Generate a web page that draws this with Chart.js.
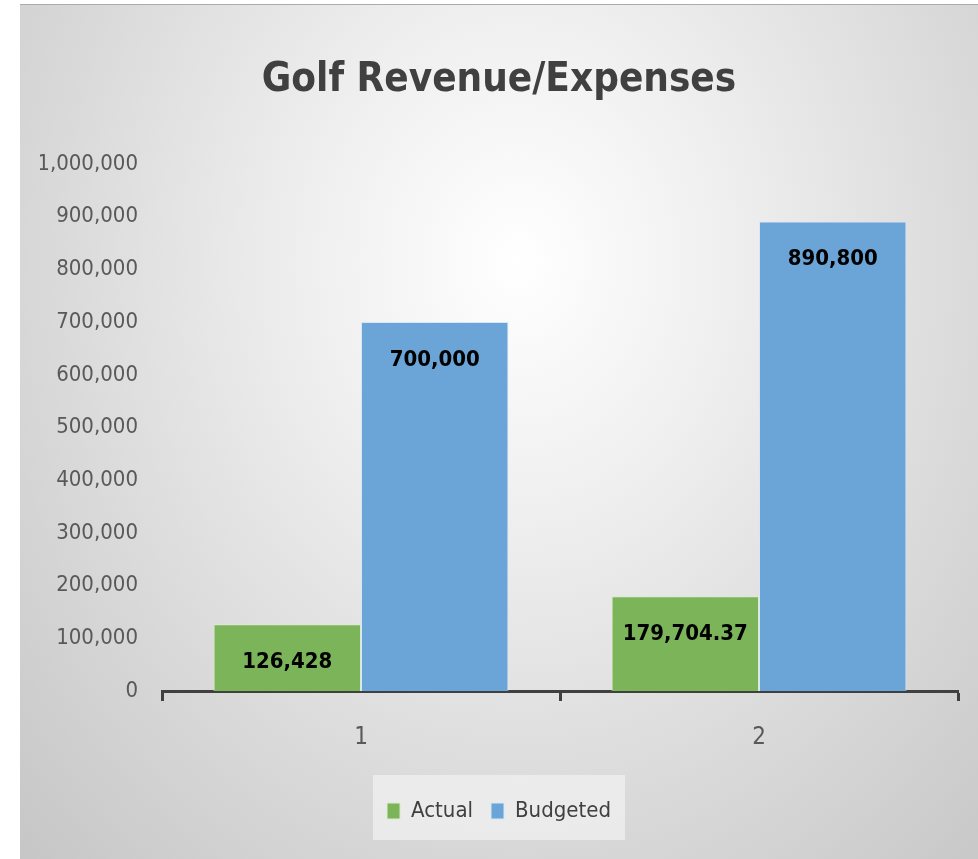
<!DOCTYPE html>
<html>
<head>
<meta charset="utf-8">
<script src="https://cdn.jsdelivr.net/npm/chart.js@4"></script>
<style>
  html, body { margin: 0; padding: 0; background: #ffffff; }
  .chart-box {
    position: absolute;
    left: 20px;
    top: 4px;
    width: 958px;
    height: 855px;
    border-top: 1px solid #ababab;
    box-sizing: border-box;
    background: radial-gradient(ellipse farthest-corner at 52% 30%, #ffffff 0%, #efefef 30%, #dadada 65%, #c6c6c6 100%);
  }
</style>
</head>
<body>
<div class="chart-box">
  <canvas id="golfChart"></canvas>
</div>
<script>
const categories = ["1", "2"];
const actualValues = [126428, 179704.37];
const budgetedValues = [700000, 890800];
const seriesNames = ["Actual", "Budgeted"];

const narrowFont = "'Liberation Sans Narrow', 'DejaVu Sans Condensed', 'Roboto Condensed', 'Open Sans', sans-serif";

function fmt(v) {
  return v.toLocaleString("en-US", { maximumFractionDigits: 2 });
}

// labels inside the bars, a bit below the top
const barLabels = {
  id: "barLabels",
  afterDatasetsDraw(chart) {
    const ctx = chart.ctx;
    ctx.save();
    ctx.font = "bold 22px " + narrowFont;
    ctx.fillStyle = "#000000";
    ctx.textAlign = "center";
    ctx.textBaseline = "middle";
    chart.data.datasets.forEach((ds, i) => {
      chart.getDatasetMeta(i).data.forEach((bar, j) => {
        ctx.fillText(fmt(ds.data[j]), bar.x, bar.y + 38);
      });
    });
    ctx.restore();
  }
};

// lighter panel behind the legend
const legendPanel = {
  id: "legendPanel",
  beforeDraw(chart) {
    const lg = chart.legend;
    if (!lg) return;
    const ctx = chart.ctx;
    ctx.save();
    ctx.fillStyle = "rgba(240,240,240,0.75)";
    const cx = lg.left + lg.width / 2;
    const cy = lg.top + lg.height / 2;
    ctx.fillRect(cx - 126, cy - 32, 252, 65);
    ctx.restore();
  }
};

new Chart(document.getElementById("golfChart"), {
  type: "bar",
  data: {
    labels: categories,
    datasets: [
      {
        label: seriesNames[0],
        data: actualValues,
        backgroundColor: "#7cb45a",
        borderColor: "#d9edcc",
        borderWidth: 1,
        borderSkipped: "bottom"
      },
      {
        label: seriesNames[1],
        data: budgetedValues,
        backgroundColor: "#6ba4d7",
        borderColor: "#d6e8f7",
        borderWidth: 1,
        borderSkipped: "bottom"
      }
    ]
  },
  options: {
    responsive: true,
    maintainAspectRatio: false,
    animation: false,
    layout: { padding: { left: 20, right: 20, top: 0, bottom: 27 } },
    datasets: {
      bar: { categoryPercentage: 0.741, barPercentage: 1.0 }
    },
    scales: {
      x: {
        offset: true,
        border: { display: true, color: "#404040", width: 3 },
        grid: {
          display: true,
          offset: true,
          drawOnChartArea: false,
          drawTicks: true,
          tickLength: 10,
          tickWidth: 3,
          tickColor: "#404040"
        },
        ticks: {
          color: "#595959",
          font: { family: narrowFont, size: 24 },
          padding: 22
        },
        afterFit(scale) { scale.height = 91; }
      },
      y: {
        min: 0,
        max: 1000000,
        border: { display: false },
        grid: { display: false, drawTicks: false },
        ticks: {
          stepSize: 100000,
          color: "#595959",
          font: { family: narrowFont, size: 22 },
          padding: 24,
          callback: (v) => v.toLocaleString("en-US")
        },
        afterFit(scale) { scale.width = 122; }
      }
    },
    plugins: {
      title: {
        display: true,
        text: "Golf Revenue/Expenses",
        color: "#404040",
        font: { family: narrowFont, size: 40, weight: "bold" },
        padding: { top: 52, bottom: 59 }
      },
      legend: {
        position: "bottom",
        labels: {
          color: "#404040",
          font: { family: narrowFont, size: 22 },
          boxWidth: 13,
          boxHeight: 16,
          padding: 18
        }
      },
      tooltip: { enabled: false }
    }
  },
  plugins: [legendPanel, barLabels]
});
</script>
</body>
</html>
